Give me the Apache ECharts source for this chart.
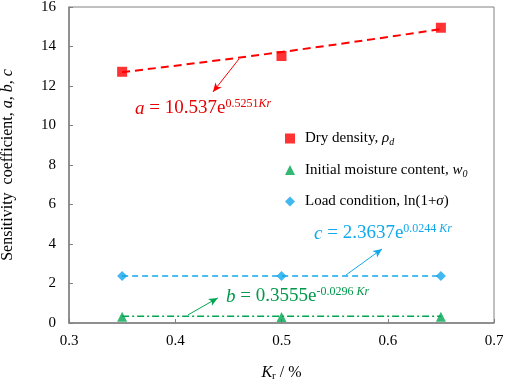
<!DOCTYPE html>
<html>
<head>
<meta charset="utf-8">
<script src="https://cdn.jsdelivr.net/npm/echarts@6/dist/echarts.min.js"></script>
<style>
html,body{margin:0;padding:0;background:#fff;}
#chart{width:505px;height:381px;}
</style>
</head>
<body>
<div id="chart"></div>
<script>
// Kr values and sensitivity coefficients
var kr = [0.35, 0.5, 0.65];
var dryDensity = [12.72, 13.52, 14.95];
var moisture = [0.32, 0.3, 0.32];
var loadCond = [2.38, 2.38, 2.38];
// fitted curves (as drawn)
var fitA = [12.7, 13.72, 14.88];
var fitB = [0.34, 0.34, 0.34];
var fitC = [2.38, 2.38, 2.38];
var xTicks = [0.3, 0.4, 0.5, 0.6, 0.7];
var yTicks = [0, 2, 4, 6, 8, 10, 12, 14, 16];

var FONT = 'Liberation Serif';
var RED = '#ff0000', GREEN = '#00a651', BLUE = '#12a8ec';

function pairs(ys) {
    return kr.map(function (x, i) { return [x, ys[i]]; });
}

function arrow(from, to, color) {
    return {
        silent: true,
        symbol: ['none', 'arrow'],
        symbolSize: [6, 9],
        animation: false,
        label: {show: false},
        lineStyle: {color: color, width: 1, type: 'solid'},
        data: [[{coord: from}, {coord: to}]]
    };
}

function eqRich(color) {
    return {
        i: {fontFamily: FONT, fontSize: 19, fontStyle: 'italic', fill: color, verticalAlign: 'bottom'},
        m: {fontFamily: FONT, fontSize: 19, fill: color, verticalAlign: 'bottom'},
        s: {fontFamily: FONT, fontSize: 12, fill: color, padding: [0, 0, 8, 0], verticalAlign: 'bottom'},
        si: {fontFamily: FONT, fontSize: 12, fontStyle: 'italic', fill: color, padding: [0, 0, 8, 0], verticalAlign: 'bottom'}
    };
}

var legendNames = {
    'dry': '{t|Dry density, }{i|ρ}{sub|d}',
    'moist': '{t|Initial moisture content, }{i|w}{sub|0}',
    'load': '{t|Load condition, ln(1+}{i|σ}{t|)}'
};

var option = {
    animation: false,
    grid: {
        left: 69, right: 11, top: 7, bottom: 58,
        outerBoundsMode: 'none',
        show: true, borderColor: '#808080', borderWidth: 1
    },
    legend: {
        orient: 'vertical',
        left: 280,
        top: 126,
        itemGap: 15,
        itemWidth: 10,
        itemHeight: 10,
        data: ['dry', 'moist', 'load'],
        formatter: function (name) { return legendNames[name]; },
        textStyle: {
            fontFamily: FONT,
            fontSize: 15,
            color: '#000',
            padding: [0, 0, 0, 5],
            rich: {
                t: {fontFamily: FONT, fontSize: 15, color: '#000'},
                i: {fontFamily: FONT, fontSize: 15, fontStyle: 'italic', color: '#000'},
                sub: {fontFamily: FONT, fontSize: 10, fontStyle: 'italic', color: '#000', padding: [8, 0, 0, 0]}
            }
        }
    },
    xAxis: {
        type: 'value',
        min: 0.3, max: 0.7, interval: 0.1,
        name: '{i|K}{s|r}{n| / %}',
        nameLocation: 'middle',
        nameGap: 40,
        nameTextStyle: {
            rich: {
                i: {fontFamily: FONT, fontSize: 16, fontStyle: 'italic', color: '#000'},
                s: {fontFamily: FONT, fontSize: 11, color: '#000', padding: [8, 0, 0, 0]},
                n: {fontFamily: FONT, fontSize: 16, color: '#000'}
            }
        },
        axisLine: {lineStyle: {color: '#808080', width: 1.5}},
        axisTick: {inside: true, length: 4, lineStyle: {color: '#808080'}},
        splitLine: {show: false},
        axisLabel: {
            fontFamily: FONT, fontSize: 15, color: '#000', margin: 11,
            formatter: function (v) { return xTicks.indexOf(Math.round(v * 10) / 10) >= 0 ? v.toFixed(1) : ''; }
        }
    },
    yAxis: {
        type: 'value',
        min: 0, max: 16, interval: 2,
        name: '{n|Sensitivity  coefficient, }{i|a}{n|, }{i|b}{n|, }{i|c}',
        nameLocation: 'middle',
        nameGap: 53,
        nameTextStyle: {
            rich: {
                n: {fontFamily: FONT, fontSize: 16, color: '#000'},
                i: {fontFamily: FONT, fontSize: 16, fontStyle: 'italic', color: '#000'}
            }
        },
        axisLine: {show: true, lineStyle: {color: '#808080', width: 1.5}},
        axisTick: {show: true, inside: true, length: 4, lineStyle: {color: '#808080'}},
        splitLine: {show: false},
        axisLabel: {
            fontFamily: FONT, fontSize: 15, color: '#000', margin: 13,
            formatter: function (v) { return yTicks.indexOf(v) >= 0 ? String(v) : ''; }
        }
    },
    series: [
        {
            name: 'fitA', type: 'line', data: pairs(fitA), smooth: true, showSymbol: false, symbol: 'none',
            lineStyle: {color: RED, width: 2, type: [8, 5]},
            z: 2,
            markLine: arrow([0.46, 13.37], [0.4355, 11.7], RED)
        },
        {
            name: 'fitC', type: 'line', data: pairs(fitC), showSymbol: false, symbol: 'none',
            lineStyle: {color: BLUE, width: 1.5, type: [6, 4]},
            z: 2,
            markLine: arrow([0.5607, 2.43], [0.5946, 3.75], BLUE)
        },
        {
            name: 'fitB', type: 'line', data: pairs(fitB), showSymbol: false, symbol: 'none',
            lineStyle: {color: GREEN, width: 1.5, type: [7, 3, 2, 3]},
            z: 2,
            markLine: arrow([0.412, 0.41], [0.44, 1.27], GREEN)
        },
        {
            name: 'dry', type: 'scatter', data: pairs(dryDensity), symbol: 'rect', symbolSize: 10,
            itemStyle: {color: RED}, z: 3
        },
        {
            name: 'moist', type: 'scatter', data: pairs(moisture), symbol: 'triangle', symbolSize: 10,
            itemStyle: {color: GREEN}, z: 3
        },
        {
            name: 'load', type: 'scatter', data: pairs(loadCond), symbol: 'diamond', symbolSize: 10,
            itemStyle: {color: BLUE}, z: 3
        }
    ],
    graphic: [
        {
            type: 'text', left: 135, top: 98, z: 10,
            style: {text: '{i|a}{m| = 10.537e}{s|0.5251}{si|Kr}', rich: eqRich('#e60000')}
        },
        {
            type: 'text', left: 314, top: 223, z: 10,
            style: {text: '{i|c}{m| = 2.3637e}{s|0.0244 }{si|Kr}', rich: eqRich(BLUE)}
        },
        {
            type: 'text', left: 226, top: 286, z: 10,
            style: {text: '{i|b}{m| = 0.3555e}{s|-0.0296 }{si|Kr}', rich: eqRich('#00994a')}
        }
    ]
};

var myChart = echarts.init(document.getElementById('chart'));
myChart.setOption(option);
window.addEventListener('resize', function () { myChart.resize(); });
</script>
</body>
</html>
